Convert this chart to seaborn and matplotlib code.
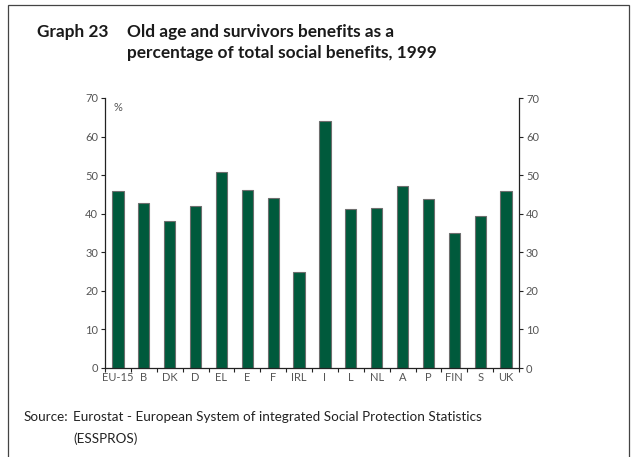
import matplotlib
matplotlib.use("Agg")
import matplotlib.pyplot as plt
from matplotlib.patches import Rectangle
import seaborn as sns
import pandas as pd

countries = ["EU-15", "B", "DK", "D", "EL", "E", "F", "IRL", "I", "L",
             "NL", "A", "P", "FIN", "S", "UK"]
share = [46.0, 42.9, 38.0, 42.1, 50.7, 46.1, 44.0, 25.0, 64.0, 41.3,
         41.6, 47.2, 43.7, 35.1, 39.4, 45.9]
yticks = [0, 10, 20, 30, 40, 50, 60, 70]

sns.set_theme(style="white")
plt.rcParams["font.family"] = ["Lato", "DejaVu Sans"]

df = pd.DataFrame({"country": countries, "share": share})

fig = plt.figure(figsize=(6.36, 4.57), dpi=100)
ax = fig.add_axes([105 / 636, 1 - 368 / 457, (519 - 105) / 636, (368 - 98) / 457])

sns.barplot(data=df, x="country", y="share", ax=ax, color="#005a3c",
            saturation=1, width=0.43, edgecolor="#6e6e6e", linewidth=0.8)

grey = "#555555"
ax.set_xlim(-0.5, len(countries) - 0.5)
ax.set_ylim(0, 70)
ax.set_yticks(yticks)
ax.set_xlabel("")
ax.set_ylabel("")
ax.set_xticks(range(len(countries)))
ax.set_xticklabels(countries)
ax.tick_params(axis="x", length=0, labelsize=8, colors=grey, pad=3)
ax.tick_params(axis="y", length=3, width=0.8, labelsize=8, colors=grey,
               direction="out", pad=2, left=True)
ax.set_xticks([i + 0.5 for i in range(-1, len(countries))], minor=True)
ax.tick_params(axis="x", which="minor", length=3, width=0.8, direction="out",
               bottom=True, color="#222222")
for side in ["left", "bottom"]:
    ax.spines[side].set_color("#222222")
    ax.spines[side].set_linewidth(0.9)
ax.spines["top"].set_visible(False)
ax.spines["right"].set_visible(False)
ax.tick_params(axis="y", color="#222222")

ax2 = ax.twinx()
ax2.set_ylim(0, 70)
ax2.set_yticks(yticks)
ax2.tick_params(axis="y", length=3, width=0.8, labelsize=8, colors=grey,
                direction="out", pad=2, right=True, color="#222222")
for side in ["left", "top", "bottom"]:
    ax2.spines[side].set_visible(False)
ax2.spines["right"].set_color("#222222")
ax2.spines["right"].set_linewidth(0.9)
ax2.grid(False)
ax.grid(False)

ax.text(0.02, 69.0, "%", fontsize=8, color=grey, va="top", ha="left",
        transform=ax.get_yaxis_transform())

# Frame around the whole graph
fig.patches.append(Rectangle((8 / 636, -0.05), (629 - 8) / 636, 1.05 - 5 / 457,
                             transform=fig.transFigure, fill=False,
                             edgecolor="#444444", linewidth=0.9))

title_kw = dict(fontsize=12.4, fontweight="bold", color="#1a1a1a", va="baseline")
fig.text(37 / 636, 1 - 37 / 457, "Graph 23", **title_kw)
fig.text(127 / 636, 1 - 37 / 457, "Old age and survivors benefits as a", **title_kw)
fig.text(127 / 636, 1 - 58 / 457, "percentage of total social benefits, 1999", **title_kw)

src_kw = dict(fontsize=9.7, color="#222222", va="baseline")
fig.text(24 / 636, 1 - 421 / 457, "Source:", **src_kw)
fig.text(73 / 636, 1 - 421 / 457,
         "Eurostat - European System of integrated Social Protection Statistics", **src_kw)
fig.text(73 / 636, 1 - 443 / 457, "(ESSPROS)", **src_kw)

fig.savefig("out.png", dpi=100, facecolor="white")
